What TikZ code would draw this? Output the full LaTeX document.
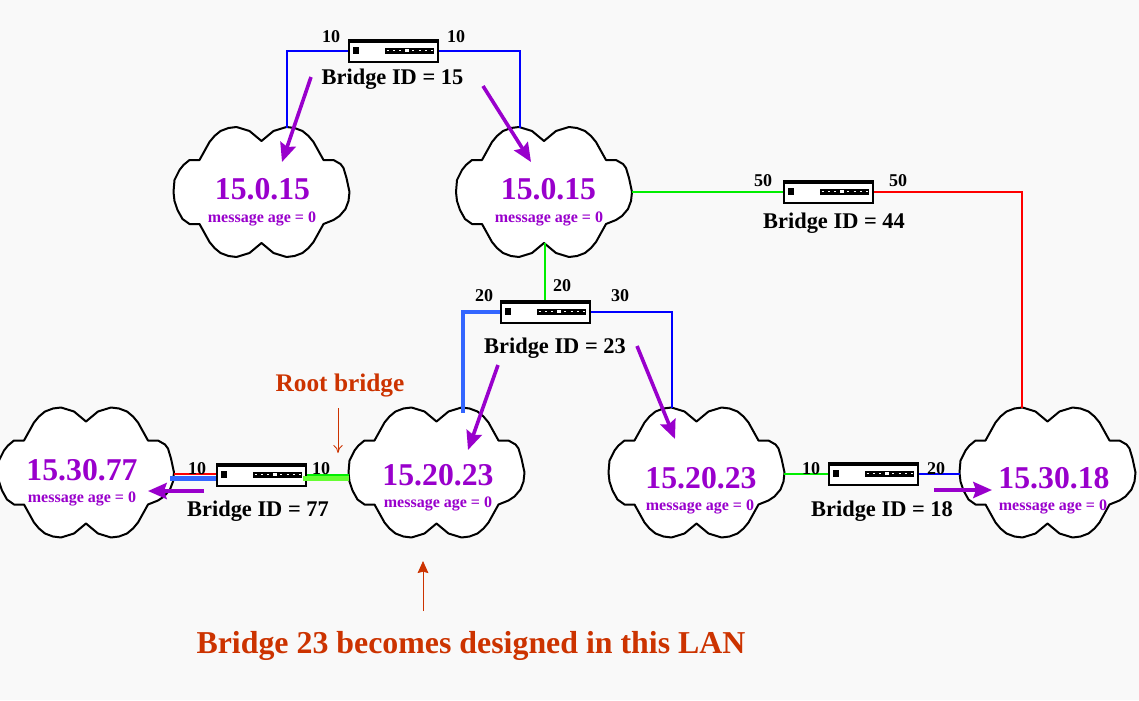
\documentclass[tikz,border=0pt]{standalone}
\usepackage{fontspec}
\setmainfont{Liberation Serif}
\usetikzlibrary{arrows.meta}
\definecolor{pagebg}{HTML}{F9F9F9}
\definecolor{msgpurple}{HTML}{9900CC}
\definecolor{noteorange}{HTML}{CC3300}
\definecolor{linkblue}{HTML}{0000FF}
\definecolor{linkgreen}{HTML}{00EE00}
\definecolor{linkred}{HTML}{FF0000}
\definecolor{designblue}{HTML}{3366FF}
\definecolor{designgreen}{HTML}{66FF33}
\tikzset{
  cloudbox/.style={minimum width=131.25pt,minimum height=97.5pt,inner sep=0pt},
  cloudline/.style={draw=black,fill=white,line width=1.5pt,line join=round},
  switchbox/.style={draw=black,fill=white,line width=1.5pt,minimum width=66.75pt,minimum height=16.5pt,inner sep=0pt},
  addr/.style={font=\bfseries\fontsize{23.8pt}{26pt}\selectfont,text=msgpurple,inner sep=0pt},
  age/.style={font=\bfseries\fontsize{12pt}{14pt}\selectfont,text=msgpurple,inner sep=0pt},
  brid/.style={font=\bfseries\fontsize{16.8pt}{20pt}\selectfont,text=black,inner sep=0pt},
  port/.style={font=\bfseries\fontsize{13.5pt}{16pt}\selectfont,text=black,inner sep=0pt},
  note/.style={font=\bfseries\fontsize{19pt}{22pt}\selectfont,text=noteorange,inner sep=0pt},
  bignote/.style={font=\bfseries\fontsize{23.9pt}{26pt}\selectfont,text=noteorange,inner sep=0pt},
  link/.style={line width=1.5pt},
  fatlink/.style={line width=3.5pt},
  msg/.style={draw=msgpurple,line width=2.7pt,-{Stealth[length=14pt,width=12pt,inset=2pt]}},
  thinarrow/.style={draw=noteorange,line width=0.6pt,-{To[length=6pt,width=7pt]}},
  solidarrow/.style={draw=noteorange,line width=0.6pt,-{Stealth[length=9pt,width=8pt,inset=1pt]}},
}
\newcommand{\cloudat}[3]{%
  \begin{scope}[shift={(#2,#3)}]
    \path[cloudline] (0,-51) -- (6,-56) -- (12,-61) -- (25,-65) -- (33,-64) -- (41,-61) -- (47,-56) -- (52,-50) -- (57,-41) -- (62,-32)
      -- (72,-32) -- (79,-28) -- (82,-24) -- (85,-14) -- (88,0) -- (87,9) -- (84,17) -- (78,24) -- (72,28) -- (62,32)
      -- (57,41) -- (52,50) -- (47,56) -- (41,61) -- (33,64) -- (25,65) -- (12,61) -- (6,56) -- (0,51)
      -- (-6,56) -- (-12,61) -- (-25,65) -- (-33,64) -- (-41,61) -- (-47,56) -- (-52,50) -- (-57,41) -- (-62,32)
      -- (-72,32) -- (-79,27) -- (-84,18) -- (-87,9) -- (-88,0) -- (-87,-12) -- (-82,-22) -- (-78,-27) -- (-72,-32) -- (-62,-32)
      -- (-57,-41) -- (-52,-50) -- (-47,-56) -- (-41,-61) -- (-33,-64) -- (-25,-65) -- (-12,-61) -- (-6,-56) -- cycle;
  \end{scope}
  \node[cloudbox] (#1) at (#2,#3) {};
}
\newcommand{\switchat}[3]{%
  \node[switchbox] (#1) at (#2,#3) {};
  \begin{scope}[shift={(#2,#3)}]
    \fill[black] (-44.5,-11) rectangle (44.5,-8.5);
    \fill[black] (-40.5,-4) rectangle (-34.5,2.5);
    \fill[black] (-8.5,-3.5) rectangle (40,2.5);
    \draw[white,line width=0.8pt,dash pattern=on 1.6pt off 3.2pt] (-7,-0.5) -- (39,-0.5);
    \fill[white] (11,-2) rectangle (15,1);
  \end{scope}
}
\begin{document}
\begin{tikzpicture}[x=0.75pt,y=-0.75pt]
\useasboundingbox (0,0) rectangle (1139,700);
\fill[pagebg] (0,0) rectangle (1139,700);

% clouds
\cloudat{c1}{261.5}{192}
\cloudat{c2}{544}{192}
\cloudat{c3}{86}{472.5}
\cloudat{c4}{436.5}{472.5}
\cloudat{c5}{696.5}{472.5}
\cloudat{c6}{1047.5}{472.5}

% attachment points on clouds
\coordinate (c1p) at (287,128);
\coordinate (c2p) at (520,128);
\coordinate (c2b) at (545,243);
\coordinate (c4p) at (463,413);
\coordinate (c5p) at (672,408);
\coordinate (c6p) at (1022,408);

% bridges
\switchat{s1}{393.5}{51}
\switchat{s2}{828.5}{192}
\switchat{s3}{545.5}{312}
\switchat{s4}{261.5}{475}
\switchat{s5}{873.5}{474}

% connectors
\draw[link,linkblue] (s1.west) -| (c1p);
\draw[link,linkblue] (s1.east) -| (c2p);
\draw[link,linkgreen] (c2.east) -- (c2.east -| s2.west);
\draw[link,linkred] (s2.east) -| (c6p);
\draw[link,linkgreen] (c2b) -- (c2b |- s3.north);
\draw[link,linkblue] (s3.east) -| (c5p);
\draw[fatlink,designblue] (s3.west) -| (c4p);
\draw[link,linkred] ([yshift=0.6pt]s4.west) -- ([yshift=0.6pt]s4.west -| c3.east);
\draw[fatlink,designblue] ([yshift=-2.6pt]s4.west) -- ([yshift=-2.6pt,xshift=-2.5pt]s4.west -| c3.east);
\draw[link,linkgreen] (s4.east) -- (s4.east -| c4.west);
\draw[fatlink,designgreen] ([yshift=-2.6pt,xshift=-3pt]s4.east) -- ([yshift=-2.6pt]s4.east -| c4.west);
\draw[link,linkgreen] (s5.west -| c5.east) -- (s5.west);
\draw[link,linkblue] (s5.east) -- (s5.east -| c6.west);

% cloud labels
\node[addr] (t1) at (262.5,189) {15.0.15};
\node[age] (m1) at (262,219) {message age = 0};
\node[addr] (t2) at (548.5,189) {15.0.15};
\node[age] (m2) at (549,219) {message age = 0};
\node[addr] (t3) at (82,470) {15.30.77};
\node[age] (m3) at (82,499) {message age = 0};
\node[addr] (t4) at (438,475) {15.20.23};
\node[age] (m4) at (438,504) {message age = 0};
\node[addr] (t5) at (701,478) {15.20.23};
\node[age] (m5) at (700,507) {message age = 0};
\node[addr] (t6) at (1054,478) {15.30.18};
\node[age] (m6) at (1053,507) {message age = 0};

% bridge labels
\node[brid] (b1) at (392.5,79) {Bridge ID = 15};
\node[brid] (b2) at (834,223) {Bridge ID = 44};
\node[brid] (b3) at (555,348) {Bridge ID = 23};
\node[brid] (b4) at (258,511) {Bridge ID = 77};
\node[brid] (b5) at (882,511) {Bridge ID = 18};

% port labels
\node[port] (p1) at (331,37) {10};
\node[port] (p2) at (456,37) {10};
\node[port] (p3) at (763,181) {50};
\node[port] (p4) at (898,181) {50};
\node[port] (p5) at (484,296) {20};
\node[port] (p6) at (562,286) {20};
\node[port] (p7) at (620,296) {30};
\node[port] (p8) at (197,469) {10};
\node[port] (p9) at (321,469) {10};
\node[port] (p10) at (811,469) {10};
\node[port] (p11) at (936,469) {20};

% message arrows
\coordinate (a1s) at (311,77);  \coordinate (a1e) at (282,162);
\coordinate (a2s) at (483,86);  \coordinate (a2e) at (531,162);
\coordinate (a3s) at (498,365); \coordinate (a3e) at (468,450);
\coordinate (a4s) at (637,346); \coordinate (a4e) at (675,439);
\coordinate (a5s) at (204,491); \coordinate (a5e) at (148,491);
\coordinate (a6s) at (934,490); \coordinate (a6e) at (992,490);
\draw[msg] (a1s) -- (a1e);
\draw[msg] (a2s) -- (a2e);
\draw[msg] (a3s) -- (a3e);
\draw[msg] (a4s) -- (a4e);
\draw[msg] (a5s) -- (a5e);
\draw[msg] (a6s) -- (a6e);

% notes
\node[note] (n1) at (340,386) {Root bridge};
\coordinate (n1s) at (338,408); \coordinate (n1e) at (338,453);
\draw[thinarrow] (n1s) -- (n1e);
\node[bignote] (n2) at (471,646) {Bridge 23 becomes designed in this LAN};
\coordinate (n2s) at (423,611); \coordinate (n2e) at (423,561);
\draw[solidarrow] (n2s) -- (n2e);
\end{tikzpicture}
\end{document}
